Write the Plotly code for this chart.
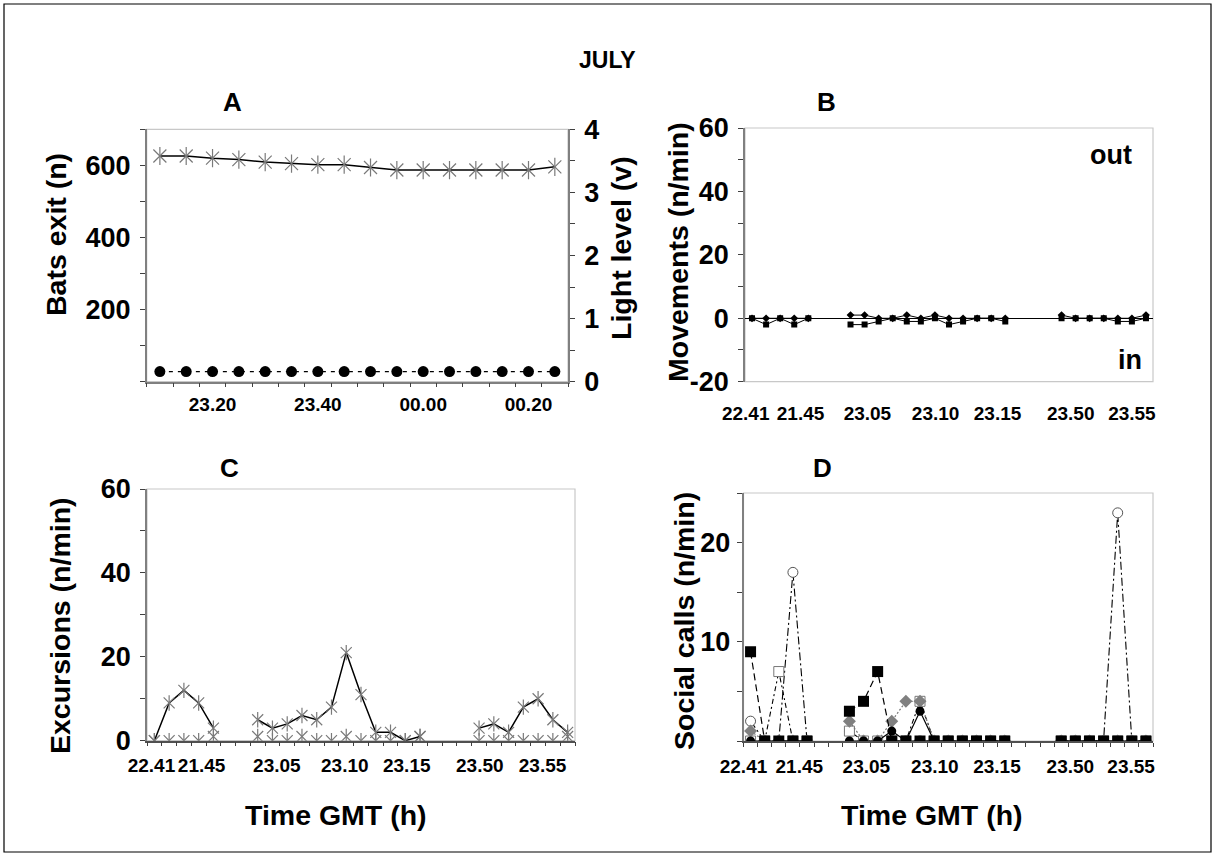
import plotly.graph_objects as go

W, H = 1215, 857
FONT = "Arial, 'Liberation Sans', Helvetica, sans-serif"

# ---------------- Panel A data ----------------
a_slots = list(range(16))
a_tick_slots = [2, 6, 10, 14]
a_tick_labels = ["23.20", "23.40", "00.00", "00.20"]
bats_exit = [626, 626, 620, 616, 609, 605, 602, 602, 594, 587, 587, 587, 587, 587, 587, 596]
light_level = [0.16, 0.16, 0.16, 0.16, 0.16, 0.16, 0.16, 0.16,
               0.16, 0.16, 0.16, 0.16, 0.16, 0.16, 0.16, 0.16]

# ---------------- Panels B, C, D (one-minute slots, None = not recorded) ----------------
N = None
slots = list(range(29))
bcd_tick_labels = ["22.41", "21.45", "23.05", "23.10", "23.15", "23.50", "23.55"]
b_tick_slots = [-0.45, 3.45, 8.2, 13.05, 17.45, 22.65, 27.0]
c_tick_slots = [-0.2, 3.2, 8.3, 12.9, 17.1, 22.05, 26.3]
d_tick_slots = [-0.5, 3.45, 8.2, 13.05, 17.45, 22.65, 26.95]

mov_out = [0, 0, 0, 0, 0, N, N, 1, 1, 0, 0, 1, 0, 1, 0, 0, 0, 0, 0, N, N, N, 1, 0, 0, 0, 0, 0, 1]
mov_in = [0, -2, 0, -2, 0, N, N, -2, -2, -1, 0, -1, -1, 0, -2, -1, 0, 0, -1, N, N, N, 0, 0, 0, 0, -1, -1, 0]

exc_main = [0, 9, 12, 9, 3, N, N, 5, 3, 4, 6, 5, 8, 21, 11, 2, 2, 0, 1, N, N, N, 3, 4, 2, 8, 10, 5, 2]
exc_base = [0, 0, 0, 0, 1, N, N, 1, 0, 0, 1, 0, 0, 1, 0, 0, 0, 0, 1, N, N, N, 0, 0, 0, 0, 0, 0, 1]

calls_circ_open = [2, 0, 0, 17, 0, N, N, 1, 0, 0, 0, 0, 0, 0, 0, 0, 0, 0, 0, N, N, N, 0, 0, 0, 0, 23, 0, 0]
calls_sq_open = [0, 0, 7, 0, 0, N, N, 1, 0, 0, 0, 0, 4, 0, 0, 0, 0, 0, 0, N, N, N, 0, 0, 0, 0, 0, 0, 0]
calls_diamond = [1, 0, 0, 0, 0, N, N, 2, 0, 0, 2, 4, 4, 0, 0, 0, 0, 0, 0, N, N, N, 0, 0, 0, 0, 0, 0, 0]
calls_sq_black = [9, 0, 0, 0, 0, N, N, 3, 4, 7, 0, 0, 0, 0, 0, 0, 0, 0, 0, N, N, N, 0, 0, 0, 0, 0, 0, 0]
calls_circ_black = [0, 0, 0, 0, 0, N, N, 0, 0, 0, 1, 0, 3, 0, 0, 0, 0, 0, 0, N, N, N, 0, 0, 0, 0, 0, 0, 0]


def xdom(a, b):
    return [a / W, b / W]


def ydom(top, bottom):
    return [1 - bottom / H, 1 - top / H]


fig = go.Figure()
STAR = "#7a7a7a"


def add_star(x, y, xa, ya, size, line=None):
    # Excel-like star marker: an X plus a vertical bar
    fig.add_trace(go.Scatter(x=x, y=y, xaxis=xa, yaxis=ya,
                             mode="lines+markers" if line else "markers",
                             line=line,
                             marker=dict(symbol="x-thin-open", size=size, color=STAR,
                                         line=dict(color=STAR, width=1.2)),
                             showlegend=False, hoverinfo="skip"))
    fig.add_trace(go.Scatter(x=x, y=y, xaxis=xa, yaxis=ya, mode="markers",
                             marker=dict(symbol="line-ns-open", size=size, color=STAR,
                                         line=dict(color=STAR, width=1.2)),
                             showlegend=False, hoverinfo="skip"))


# Panel A
add_star(a_slots, bats_exit, "x", "y", 13, line=dict(color="black", width=1.5))
fig.add_trace(go.Scatter(x=a_slots, y=light_level, xaxis="x", yaxis="y2", mode="lines+markers",
                         line=dict(color="black", width=1.3, dash="4px,5px"),
                         marker=dict(symbol="circle", size=11, color="black"),
                         showlegend=False))

# Panel B
fig.add_trace(go.Scatter(x=slots, y=mov_in, xaxis="x2", yaxis="y3", mode="lines+markers",
                         line=dict(color="black", width=1),
                         marker=dict(symbol="square", size=6, color="black"),
                         showlegend=False))
fig.add_trace(go.Scatter(x=slots, y=mov_out, xaxis="x2", yaxis="y3", mode="lines+markers",
                         line=dict(color="black", width=1),
                         marker=dict(symbol="diamond", size=6, color="black"),
                         showlegend=False))

# Panel C
add_star(slots, exc_base, "x3", "y4", 11)
add_star(slots, exc_main, "x3", "y4", 11, line=dict(color="black", width=1.5))

# Panel D
fig.add_trace(go.Scatter(x=slots, y=calls_circ_open, xaxis="x4", yaxis="y5", mode="lines+markers",
                         line=dict(color="black", width=1.1, dash="8px,3px,2px,3px"),
                         marker=dict(symbol="circle", size=10, color="white",
                                     line=dict(color="#555555", width=1)),
                         showlegend=False))
fig.add_trace(go.Scatter(x=slots, y=calls_sq_open, xaxis="x4", yaxis="y5", mode="lines+markers",
                         line=dict(color="black", width=1.1, dash="5px,3px,2px,3px"),
                         marker=dict(symbol="square", size=10, color="white",
                                     line=dict(color="#777777", width=1)),
                         showlegend=False))
fig.add_trace(go.Scatter(x=slots, y=calls_diamond, xaxis="x4", yaxis="y5", mode="lines+markers",
                         line=dict(color="#777777", width=1.2, dash="2px,2px"),
                         marker=dict(symbol="diamond", size=10, color="#808080"),
                         showlegend=False))
fig.add_trace(go.Scatter(x=slots, y=calls_sq_black, xaxis="x4", yaxis="y5", mode="lines+markers",
                         line=dict(color="black", width=1.2, dash="7px,4px"),
                         marker=dict(symbol="square", size=11, color="black"),
                         showlegend=False))
fig.add_trace(go.Scatter(x=slots, y=calls_circ_black, xaxis="x4", yaxis="y5", mode="lines+markers",
                         line=dict(color="black", width=1.2),
                         marker=dict(symbol="circle", size=9, color="black"),
                         showlegend=False))

YT = dict(family=FONT, size=27, color="black", weight="bold")
XT = dict(family=FONT, size=19, color="black", weight="bold")
AX = "#808080"


def yax(dom, rng, step, labelled, anchor, side="left", overlaying=None, zeroline=False, standoff=4):
    vals = []
    v = rng[0]
    while v <= rng[1] + 1e-9:
        vals.append(round(v, 4))
        v += step
    text = [(("%g" % t) if any(abs(t - l) < 1e-9 for l in labelled) else "") for t in vals]
    d = dict(range=rng, tickmode="array", tickvals=vals, ticktext=text, ticks="outside",
             ticklen=5, tickcolor="#404040", tickwidth=1, showline=True, linecolor=AX, linewidth=1.5,
             showgrid=False, zeroline=zeroline, zerolinecolor="black", zerolinewidth=1,
             tickfont=YT, anchor=anchor, side=side, ticklabelstandoff=standoff, fixedrange=True,
             automargin=False)
    if dom is not None:
        d["domain"] = dom
    if overlaying:
        d["overlaying"] = overlaying
    return d


def boundaries(rng):
    n0 = rng[0]
    mv = []
    while n0 <= rng[1] + 1e-9:
        mv.append(n0)
        n0 += 1
    return mv


def xax(dom, rng, tvals, ttext, anchor, showline, linecolor, minor, standoff):
    d = dict(domain=dom, range=rng, tickmode="array", tickvals=tvals, ticktext=ttext, ticks="",
             tickangle=0, showline=showline, linecolor=linecolor, linewidth=1.5, showgrid=False,
             zeroline=False, tickfont=XT, anchor=anchor, ticklabelstandoff=standoff, fixedrange=True,
             automargin=False)
    if minor:
        d["minor"] = dict(tickmode="array", tickvals=boundaries(rng), ticks="outside", ticklen=4,
                          tickcolor="#404040", tickwidth=1)
    return d


b_xrange = [-0.5, 28.5]
b_yrange = [-20, 60]
b_ydom = ydom(128, 381.7)
# paper position of the value 0 on panel B's y axis (where the time axis crosses)
b_zero_pos = b_ydom[0] + (0 - b_yrange[0]) / (b_yrange[1] - b_yrange[0]) * (b_ydom[1] - b_ydom[0])

fig.update_layout(
    width=W, height=H, autosize=False, margin=dict(l=0, r=0, t=0, b=0, pad=0, autoexpand=False),
    paper_bgcolor="white", plot_bgcolor="white",
    font=dict(family=FONT, color="black"),
    xaxis=xax(xdom(146.7, 568), [-0.5, 15.5], a_tick_slots, a_tick_labels, "y", True, AX, True, 5),
    yaxis=yax(ydom(129.3, 381.7), [0, 700], 100, [200, 400, 600], "x"),
    yaxis2=yax(None, [0, 4], 0.5, [0, 1, 2, 3, 4], "x", side="right", overlaying="y"),
    xaxis2=xax(xdom(745, 1153), b_xrange, b_tick_slots, bcd_tick_labels, "y3", False, AX, False, 18),
    yaxis3=yax(b_ydom, b_yrange, 10, [-20, 0, 20, 40, 60], "x2", zeroline=True),
    xaxis5=dict(overlaying="x2", anchor="free", position=b_zero_pos, range=b_xrange,
                tickmode="array", tickvals=boundaries(b_xrange), ticks="outside", ticklen=4,
                tickcolor="#404040", tickwidth=1, showticklabels=False, showline=False,
                showgrid=False, zeroline=False, fixedrange=True, automargin=False),
    xaxis3=xax(xdom(147, 575), [-0.5, 28.5], c_tick_slots, bcd_tick_labels, "y4", True, "#505050", True, 7),
    yaxis4=yax(ydom(489, 740.7), [0, 60], 10, [0, 20, 40, 60], "x3"),
    xaxis4=xax(xdom(743.5, 1153), [-0.5, 28.5], d_tick_slots, bcd_tick_labels, "y5", True, "#505050", True, 7),
    yaxis5=yax(ydom(493, 741), [0, 25], 5, [10, 20], "x4", standoff=1),
)

shapes = []
for xr, yr in [("x", "y"), ("x2", "y3"), ("x3", "y4"), ("x4", "y5")]:
    shapes.append(dict(type="rect", xref=xr + " domain", yref=yr + " domain", x0=0, x1=1, y0=0, y1=1,
                       line=dict(color="#c8c8c8", width=1.2), layer="below"))
shapes.append(dict(type="rect", xref="paper", yref="paper", x0=4 / W, x1=1211 / W,
                   y0=1 - 852 / H, y1=1 - 4 / H, line=dict(color="black", width=1.2), layer="below"))
fig.update_layout(shapes=shapes)


def ann(text, cx, cy, size, angle=0):
    return dict(text=text, x=cx / W, y=1 - cy / H, xref="paper", yref="paper", showarrow=False,
                xanchor="center", yanchor="middle", textangle=angle,
                font=dict(family=FONT, size=size, color="black", weight="bold"))


fig.update_layout(annotations=[
    ann("JULY", 607, 60, 23),
    ann("A", 232, 102, 26), ann("B", 826, 102, 26), ann("C", 229, 468, 26), ann("D", 822, 468, 26),
    ann("out", 1111, 155, 27), ann("in", 1130, 360, 27),
    ann("Bats exit (n)", 56, 235, 28.5, -90),
    ann("Light level (v)", 621, 248, 28.5, -90),
    ann("Movements (n/min)", 678, 252, 28.5, -90),
    ann("Excursions (n/min)", 60, 626, 28.5, -90),
    ann("Social calls (n/min)", 684, 621, 28.5, -90),
    ann("Time GMT (h)", 336, 815, 28.5),
    ann("Time GMT (h)", 932, 815, 28.5),
])

fig.write_html("out.html", config={"displayModeBar": False},
               post_script="document.body.style.margin='0px';document.body.style.overflow='hidden';")
